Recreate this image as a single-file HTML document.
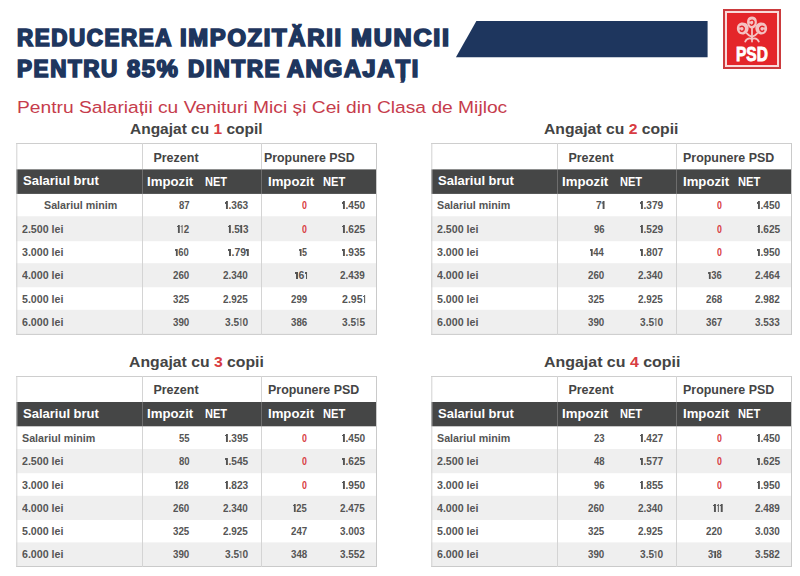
<!DOCTYPE html>
<html><head><meta charset="utf-8"><style>
html,body{margin:0;padding:0;background:#fff;}
body{width:800px;height:576px;position:relative;overflow:hidden;font-family:"Liberation Sans",sans-serif;}
.t{position:absolute;white-space:nowrap;line-height:40px;transform-origin:0 0;}
.o{display:inline-block;width:3.6px;height:7.7px;position:relative;}
.o::before{content:'';position:absolute;left:1.1px;top:0;width:1.6px;height:100%;background:currentColor}
.o::after{content:'';position:absolute;left:0.1px;top:0.8px;width:1.3px;height:1.3px;background:currentColor}
.p{font-style:normal}
.tb{position:absolute;width:359px;height:189px;border:1px solid #c9c9c9;background:#fff;}
.dk{position:absolute;width:359px;height:24px;background:#454545;}
.gr{position:absolute;width:359px;height:23.33px;background:#efefef;}
.vl{position:absolute;width:1px;height:191px;background:#cfcfcf;}
</style></head><body>
<div style="position:absolute;left:0;top:0;width:800px;height:576px;">
<svg style="position:absolute;left:0;top:0" width="800" height="80"><polygon points="476.4,21 707.6,21 707.6,57.3 455.9,57.3" fill="#1e365e"/></svg>
<div style="position:absolute;left:723px;top:9px;width:58px;height:60px;background:#cb3a3d"></div>
<div style="position:absolute;left:725px;top:11px;width:54px;height:56px;background:#f9dada"></div>
<div style="position:absolute;left:727px;top:13px;width:50px;height:52px;background:#e4252a"></div>
<svg style="position:absolute;left:0;top:0" width="800" height="80" viewBox="0 0 800 80"><g transform="translate(752 29.5) scale(1.05) translate(-752 -29.5)">
<g fill="#f4c2c2">
<path d="M752 17 C756.5 17 757 21 756.5 24 C756 27 754 28.5 752 28.5 C750 28.5 748 27 747.5 24 C747 21 747.5 17 752 17z"/>
<path d="M743 22.8 C747 22.8 749 25.5 748.8 28.5 C748.6 32 746 34.2 743 34.2 C739.8 34.2 737.6 31.5 737.6 28.5 C737.6 25.3 739.6 22.8 743 22.8z"/>
<path d="M761 22.8 C757 22.8 755 25.5 755.2 28.5 C755.4 32 758 34.2 761 34.2 C764.2 34.2 766.4 31.5 766.4 28.5 C766.4 25.3 764.4 22.8 761 22.8z"/>
</g>
<g fill="none" stroke="#e4252a" stroke-width="1.3" stroke-linecap="round">
<path d="M750.3 21.2 q2.2 -1.5 3.5 0.6 q0.6 2.4 -1.6 3.6 q-1.6 0.3 -2 -1"/>
<path d="M740.6 27 q2.6 -1.4 4 1 q0.4 2.6 -2 3.4 q-1.5 0 -1.8 -1.2"/>
<path d="M763.4 27 q-2.6 -1.4 -4 1 q-0.4 2.6 2 3.4 q1.5 0 1.8 -1.2"/>
</g>
<g fill="none" stroke="#f4c2c2" stroke-width="1.7" stroke-linecap="round">
<path d="M752 41 L752 28"/>
<path d="M752 36.5 C749.5 35.5 748 34.5 747 33"/>
<path d="M752 36.5 C754.5 35.5 756 34.5 757 33"/>
<path d="M745.5 41 C747 38 749.5 37.5 752 38.5"/>
<path d="M758.5 41 C757 38 754.5 37.5 752 38.5"/>
</g></g></svg>
<svg style="position:absolute;left:0;top:0" width="800" height="576" viewBox="0 0 800 576"><rect x="16" y="143" width="361" height="191.89999999999998" fill="#fff"/><rect x="16" y="216.25" width="361" height="24.95" fill="#efefef"/><rect x="16" y="263.2" width="361" height="24.05" fill="#efefef"/><rect x="16" y="309.8" width="361" height="24.20" fill="#efefef"/><rect x="16" y="169.4" width="361" height="24.50" fill="#454646"/><rect x="16" y="143" width="361" height="1" fill="#cecece"/><rect x="16" y="333.9" width="361" height="1" fill="#cacaca"/><rect x="16.3" y="143" width="1" height="191.89999999999998" fill="#d2d2d2"/><rect x="376" y="143" width="1" height="191.89999999999998" fill="#cacaca"/><rect x="142" y="143" width="1" height="191.89999999999998" fill="#d4d4d4"/><rect x="142" y="169.4" width="1" height="24.50" fill="#6d6d6d"/><rect x="261" y="143" width="1" height="191.89999999999998" fill="#d4d4d4"/><rect x="261" y="169.4" width="1" height="24.50" fill="#6d6d6d"/><rect x="431" y="143" width="361" height="191.89999999999998" fill="#fff"/><rect x="431" y="216.25" width="361" height="24.95" fill="#efefef"/><rect x="431" y="263.2" width="361" height="24.05" fill="#efefef"/><rect x="431" y="309.8" width="361" height="24.20" fill="#efefef"/><rect x="431" y="169.4" width="361" height="24.50" fill="#454646"/><rect x="431" y="143" width="361" height="1" fill="#cecece"/><rect x="431" y="333.9" width="361" height="1" fill="#cacaca"/><rect x="431.3" y="143" width="1" height="191.89999999999998" fill="#d2d2d2"/><rect x="791" y="143" width="1" height="191.89999999999998" fill="#cacaca"/><rect x="557" y="143" width="1" height="191.89999999999998" fill="#d4d4d4"/><rect x="557" y="169.4" width="1" height="24.50" fill="#6d6d6d"/><rect x="676" y="143" width="1" height="191.89999999999998" fill="#d4d4d4"/><rect x="676" y="169.4" width="1" height="24.50" fill="#6d6d6d"/><rect x="16" y="376" width="361" height="191" fill="#fff"/><rect x="16" y="449.0" width="361" height="24.20" fill="#efefef"/><rect x="16" y="495.8" width="361" height="24.20" fill="#efefef"/><rect x="16" y="542.4" width="361" height="23.60" fill="#efefef"/><rect x="16" y="402.0" width="361" height="24.30" fill="#454646"/><rect x="16" y="376" width="361" height="1" fill="#cecece"/><rect x="16" y="566" width="361" height="1" fill="#cacaca"/><rect x="16.3" y="376" width="1" height="191" fill="#d2d2d2"/><rect x="376" y="376" width="1" height="191" fill="#cacaca"/><rect x="142" y="376" width="1" height="191" fill="#d4d4d4"/><rect x="142" y="402.0" width="1" height="24.30" fill="#6d6d6d"/><rect x="261" y="376" width="1" height="191" fill="#d4d4d4"/><rect x="261" y="402.0" width="1" height="24.30" fill="#6d6d6d"/><rect x="431" y="376" width="361" height="191" fill="#fff"/><rect x="431" y="449.0" width="361" height="24.20" fill="#efefef"/><rect x="431" y="495.8" width="361" height="24.20" fill="#efefef"/><rect x="431" y="542.4" width="361" height="23.60" fill="#efefef"/><rect x="431" y="402.0" width="361" height="24.30" fill="#454646"/><rect x="431" y="376" width="361" height="1" fill="#cecece"/><rect x="431" y="566" width="361" height="1" fill="#cacaca"/><rect x="431.3" y="376" width="1" height="191" fill="#d2d2d2"/><rect x="791" y="376" width="1" height="191" fill="#cacaca"/><rect x="557" y="376" width="1" height="191" fill="#d4d4d4"/><rect x="557" y="402.0" width="1" height="24.30" fill="#6d6d6d"/><rect x="676" y="376" width="1" height="191" fill="#d4d4d4"/><rect x="676" y="402.0" width="1" height="24.30" fill="#6d6d6d"/></svg>
<div class="t" style="left:17.00px;top:18.40px;font-size:23.0px;font-weight:700;color:#1e365e;transform:scaleX(0.9742);-webkit-text-stroke:1.7px #1e365e;letter-spacing:1.6px;">REDUCEREA</div><div class="t" style="left:180.00px;top:18.40px;font-size:23.0px;font-weight:700;color:#1e365e;transform:scaleX(1.0372);-webkit-text-stroke:1.7px #1e365e;letter-spacing:1.6px;">IMPOZITĂRII</div><div class="t" style="left:350.70px;top:18.40px;font-size:23.0px;font-weight:700;color:#1e365e;transform:scaleX(1.0922);-webkit-text-stroke:1.7px #1e365e;letter-spacing:1.6px;">MUNCII</div><div class="t" style="left:17.00px;top:49.00px;font-size:23.0px;font-weight:700;color:#1e365e;transform:scaleX(0.9786);-webkit-text-stroke:1.7px #1e365e;letter-spacing:1.6px;">PENTRU</div><div class="t" style="left:126.63px;top:49.00px;font-size:23.0px;font-weight:700;color:#1e365e;transform:scaleX(1.0294);-webkit-text-stroke:1.7px #1e365e;letter-spacing:1.6px;">85%</div><div class="t" style="left:187.50px;top:49.00px;font-size:23.0px;font-weight:700;color:#1e365e;transform:scaleX(0.9777);-webkit-text-stroke:1.7px #1e365e;letter-spacing:1.6px;">DINTRE</div><div class="t" style="left:286.62px;top:49.00px;font-size:23.0px;font-weight:700;color:#1e365e;transform:scaleX(1.0185);-webkit-text-stroke:1.7px #1e365e;letter-spacing:1.6px;">ANGAJAȚI</div><div class="t" style="left:16.90px;top:87.25px;font-size:17.4px;font-weight:400;color:#c63c4c;transform:scaleX(1.1050);">Pentru Salariații cu Venituri Mici și Cei din Clasa de Mijloc</div><div class="t" style="left:130.25px;top:109.30px;font-size:14.6px;font-weight:700;color:#444444;transform:scaleX(1.0612);">Angajat cu <span style="color:#d83c42">1</span> copil</div><div class="t" style="left:153.40px;top:137.50px;font-size:12.5px;font-weight:700;color:#444444;transform:scaleX(1.0000);">Prezent</div><div class="t" style="left:264.00px;top:137.50px;font-size:12.5px;font-weight:700;color:#444444;transform:scaleX(0.9891);">Propunere PSD</div><div class="t" style="left:22.75px;top:161.20px;font-size:13px;font-weight:700;color:#ffffff;transform:scaleX(1.0007);">Salariul brut</div><div class="t" style="left:146.90px;top:161.70px;font-size:12.5px;font-weight:700;color:#ffffff;transform:scaleX(1.0568);">Impozit</div><div class="t" style="left:205.40px;top:161.70px;font-size:12.5px;font-weight:700;color:#ffffff;transform:scaleX(0.8840);">NET</div><div class="t" style="left:268.00px;top:161.70px;font-size:12.5px;font-weight:700;color:#ffffff;transform:scaleX(1.0523);">Impozit</div><div class="t" style="left:322.70px;top:161.70px;font-size:12.5px;font-weight:700;color:#ffffff;transform:scaleX(0.8920);">NET</div><div class="t" style="left:44.00px;top:185.17px;font-size:11px;font-weight:700;color:#555555;transform:scaleX(0.9733);">Salariul minim</div><div class="t" style="left:178.62px;top:185.17px;font-size:10.5px;font-weight:700;color:#555555;transform:scaleX(0.9067);">87</div><div class="t" style="left:225.36px;top:185.17px;font-size:10.5px;font-weight:700;color:#555555;transform:scaleX(0.9642);"><i class="o"></i><i class="p">.</i>363</div><div class="t" style="left:302.46px;top:185.17px;font-size:10.5px;font-weight:700;color:#d83c42;transform:scaleX(0.8400);">0</div><div class="t" style="left:342.36px;top:185.17px;font-size:10.5px;font-weight:700;color:#555555;transform:scaleX(0.9642);"><i class="o"></i><i class="p">.</i>450</div><div class="t" style="left:22.20px;top:208.82px;font-size:11px;font-weight:700;color:#555555;transform:scaleX(0.9674);">2.500 lei</div><div class="t" style="left:177.46px;top:208.82px;font-size:10.5px;font-weight:700;color:#555555;transform:scaleX(0.9262);"><i class="o"></i><i class="o"></i>2</div><div class="t" style="left:227.70px;top:208.82px;font-size:10.5px;font-weight:700;color:#555555;transform:scaleX(0.9455);"><i class="o"></i><i class="p">.</i>5<i class="o"></i>3</div><div class="t" style="left:302.46px;top:208.82px;font-size:10.5px;font-weight:700;color:#d83c42;transform:scaleX(0.8400);">0</div><div class="t" style="left:342.36px;top:208.82px;font-size:10.5px;font-weight:700;color:#555555;transform:scaleX(0.9642);"><i class="o"></i><i class="p">.</i>625</div><div class="t" style="left:22.20px;top:232.30px;font-size:11px;font-weight:700;color:#555555;transform:scaleX(0.9674);">3.000 lei</div><div class="t" style="left:175.12px;top:232.30px;font-size:10.5px;font-weight:700;color:#555555;transform:scaleX(0.8987);"><i class="o"></i>60</div><div class="t" style="left:227.70px;top:232.30px;font-size:10.5px;font-weight:700;color:#555555;transform:scaleX(0.9905);"><i class="o"></i><i class="p">.</i>79<i class="o"></i></div><div class="t" style="left:298.96px;top:232.30px;font-size:10.5px;font-weight:700;color:#555555;transform:scaleX(0.8540);"><i class="o"></i>5</div><div class="t" style="left:342.36px;top:232.30px;font-size:10.5px;font-weight:700;color:#555555;transform:scaleX(0.9642);"><i class="o"></i><i class="p">.</i>935</div><div class="t" style="left:22.20px;top:255.33px;font-size:11px;font-weight:700;color:#555555;transform:scaleX(0.9674);">4.000 lei</div><div class="t" style="left:172.78px;top:255.33px;font-size:10.5px;font-weight:700;color:#555555;transform:scaleX(0.9289);">260</div><div class="t" style="left:223.02px;top:255.33px;font-size:10.5px;font-weight:700;color:#555555;transform:scaleX(0.9437);">2<i class="p">.</i>340</div><div class="t" style="left:295.46px;top:255.33px;font-size:10.5px;font-weight:700;color:#555555;transform:scaleX(1.0033);"><i class="o"></i>6<i class="o"></i></div><div class="t" style="left:340.02px;top:255.33px;font-size:10.5px;font-weight:700;color:#555555;transform:scaleX(0.9437);">2<i class="p">.</i>439</div><div class="t" style="left:22.20px;top:278.62px;font-size:11px;font-weight:700;color:#555555;transform:scaleX(0.9674);">5.000 lei</div><div class="t" style="left:172.78px;top:278.62px;font-size:10.5px;font-weight:700;color:#555555;transform:scaleX(0.9289);">325</div><div class="t" style="left:223.02px;top:278.62px;font-size:10.5px;font-weight:700;color:#555555;transform:scaleX(0.9437);">2<i class="p">.</i>925</div><div class="t" style="left:290.78px;top:278.62px;font-size:10.5px;font-weight:700;color:#555555;transform:scaleX(0.9289);">299</div><div class="t" style="left:342.36px;top:278.62px;font-size:10.5px;font-weight:700;color:#555555;transform:scaleX(1.0061);">2<i class="p">.</i>95<i class="o"></i></div><div class="t" style="left:22.20px;top:302.00px;font-size:11px;font-weight:700;color:#555555;transform:scaleX(0.9674);">6.000 lei</div><div class="t" style="left:172.78px;top:302.00px;font-size:10.5px;font-weight:700;color:#555555;transform:scaleX(0.9289);">390</div><div class="t" style="left:225.36px;top:302.00px;font-size:10.5px;font-weight:700;color:#555555;transform:scaleX(0.9642);">3<i class="p">.</i>5<i class="o"></i>0</div><div class="t" style="left:290.78px;top:302.00px;font-size:10.5px;font-weight:700;color:#555555;transform:scaleX(0.9289);">386</div><div class="t" style="left:342.36px;top:302.00px;font-size:10.5px;font-weight:700;color:#555555;transform:scaleX(0.9642);">3<i class="p">.</i>5<i class="o"></i>5</div><div class="t" style="left:544.00px;top:109.30px;font-size:14.6px;font-weight:700;color:#444444;transform:scaleX(1.0760);">Angajat cu <span style="color:#d83c42">2</span> copii</div><div class="t" style="left:568.40px;top:137.50px;font-size:12.5px;font-weight:700;color:#444444;transform:scaleX(1.0000);">Prezent</div><div class="t" style="left:683.00px;top:137.50px;font-size:12.5px;font-weight:700;color:#444444;transform:scaleX(0.9946);">Propunere PSD</div><div class="t" style="left:437.75px;top:161.20px;font-size:13px;font-weight:700;color:#ffffff;transform:scaleX(1.0007);">Salariul brut</div><div class="t" style="left:561.90px;top:161.70px;font-size:12.5px;font-weight:700;color:#ffffff;transform:scaleX(1.0568);">Impozit</div><div class="t" style="left:620.40px;top:161.70px;font-size:12.5px;font-weight:700;color:#ffffff;transform:scaleX(0.8840);">NET</div><div class="t" style="left:683.00px;top:161.70px;font-size:12.5px;font-weight:700;color:#ffffff;transform:scaleX(1.0523);">Impozit</div><div class="t" style="left:737.70px;top:161.70px;font-size:12.5px;font-weight:700;color:#ffffff;transform:scaleX(0.8920);">NET</div><div class="t" style="left:437.20px;top:185.17px;font-size:11px;font-weight:700;color:#555555;transform:scaleX(0.9733);">Salariul minim</div><div class="t" style="left:595.96px;top:185.17px;font-size:10.5px;font-weight:700;color:#555555;transform:scaleX(0.9489);">7<i class="o"></i></div><div class="t" style="left:640.36px;top:185.17px;font-size:10.5px;font-weight:700;color:#555555;transform:scaleX(0.9642);"><i class="o"></i><i class="p">.</i>379</div><div class="t" style="left:717.46px;top:185.17px;font-size:10.5px;font-weight:700;color:#d83c42;transform:scaleX(0.8400);">0</div><div class="t" style="left:757.36px;top:185.17px;font-size:10.5px;font-weight:700;color:#555555;transform:scaleX(0.9642);"><i class="o"></i><i class="p">.</i>450</div><div class="t" style="left:437.20px;top:208.82px;font-size:11px;font-weight:700;color:#555555;transform:scaleX(0.9674);">2.500 lei</div><div class="t" style="left:593.62px;top:208.82px;font-size:10.5px;font-weight:700;color:#555555;transform:scaleX(0.9067);">96</div><div class="t" style="left:640.36px;top:208.82px;font-size:10.5px;font-weight:700;color:#555555;transform:scaleX(0.9642);"><i class="o"></i><i class="p">.</i>529</div><div class="t" style="left:717.46px;top:208.82px;font-size:10.5px;font-weight:700;color:#d83c42;transform:scaleX(0.8400);">0</div><div class="t" style="left:757.36px;top:208.82px;font-size:10.5px;font-weight:700;color:#555555;transform:scaleX(0.9642);"><i class="o"></i><i class="p">.</i>625</div><div class="t" style="left:437.20px;top:232.30px;font-size:11px;font-weight:700;color:#555555;transform:scaleX(0.9674);">3.000 lei</div><div class="t" style="left:590.12px;top:232.30px;font-size:10.5px;font-weight:700;color:#555555;transform:scaleX(0.8987);"><i class="o"></i>44</div><div class="t" style="left:640.36px;top:232.30px;font-size:10.5px;font-weight:700;color:#555555;transform:scaleX(0.9642);"><i class="o"></i><i class="p">.</i>807</div><div class="t" style="left:717.46px;top:232.30px;font-size:10.5px;font-weight:700;color:#d83c42;transform:scaleX(0.8400);">0</div><div class="t" style="left:757.36px;top:232.30px;font-size:10.5px;font-weight:700;color:#555555;transform:scaleX(0.9642);"><i class="o"></i><i class="p">.</i>950</div><div class="t" style="left:437.20px;top:255.33px;font-size:11px;font-weight:700;color:#555555;transform:scaleX(0.9674);">4.000 lei</div><div class="t" style="left:587.78px;top:255.33px;font-size:10.5px;font-weight:700;color:#555555;transform:scaleX(0.9289);">260</div><div class="t" style="left:638.02px;top:255.33px;font-size:10.5px;font-weight:700;color:#555555;transform:scaleX(0.9437);">2<i class="p">.</i>340</div><div class="t" style="left:708.12px;top:255.33px;font-size:10.5px;font-weight:700;color:#555555;transform:scaleX(0.8987);"><i class="o"></i>36</div><div class="t" style="left:755.02px;top:255.33px;font-size:10.5px;font-weight:700;color:#555555;transform:scaleX(0.9437);">2<i class="p">.</i>464</div><div class="t" style="left:437.20px;top:278.62px;font-size:11px;font-weight:700;color:#555555;transform:scaleX(0.9674);">5.000 lei</div><div class="t" style="left:587.78px;top:278.62px;font-size:10.5px;font-weight:700;color:#555555;transform:scaleX(0.9289);">325</div><div class="t" style="left:638.02px;top:278.62px;font-size:10.5px;font-weight:700;color:#555555;transform:scaleX(0.9437);">2<i class="p">.</i>925</div><div class="t" style="left:705.78px;top:278.62px;font-size:10.5px;font-weight:700;color:#555555;transform:scaleX(0.9289);">268</div><div class="t" style="left:755.02px;top:278.62px;font-size:10.5px;font-weight:700;color:#555555;transform:scaleX(0.9437);">2<i class="p">.</i>982</div><div class="t" style="left:437.20px;top:302.00px;font-size:11px;font-weight:700;color:#555555;transform:scaleX(0.9674);">6.000 lei</div><div class="t" style="left:587.78px;top:302.00px;font-size:10.5px;font-weight:700;color:#555555;transform:scaleX(0.9289);">390</div><div class="t" style="left:640.36px;top:302.00px;font-size:10.5px;font-weight:700;color:#555555;transform:scaleX(0.9642);">3<i class="p">.</i>5<i class="o"></i>0</div><div class="t" style="left:705.78px;top:302.00px;font-size:10.5px;font-weight:700;color:#555555;transform:scaleX(0.9289);">367</div><div class="t" style="left:755.02px;top:302.00px;font-size:10.5px;font-weight:700;color:#555555;transform:scaleX(0.9437);">3<i class="p">.</i>533</div><div class="t" style="left:129.00px;top:341.60px;font-size:14.6px;font-weight:700;color:#444444;transform:scaleX(1.0800);">Angajat cu <span style="color:#d83c42">3</span> copii</div><div class="t" style="left:153.40px;top:369.80px;font-size:12.5px;font-weight:700;color:#444444;transform:scaleX(1.0000);">Prezent</div><div class="t" style="left:268.00px;top:369.80px;font-size:12.5px;font-weight:700;color:#444444;transform:scaleX(0.9946);">Propunere PSD</div><div class="t" style="left:22.75px;top:393.70px;font-size:13px;font-weight:700;color:#ffffff;transform:scaleX(1.0007);">Salariul brut</div><div class="t" style="left:146.90px;top:394.20px;font-size:12.5px;font-weight:700;color:#ffffff;transform:scaleX(1.0568);">Impozit</div><div class="t" style="left:205.40px;top:394.20px;font-size:12.5px;font-weight:700;color:#ffffff;transform:scaleX(0.8840);">NET</div><div class="t" style="left:268.00px;top:394.20px;font-size:12.5px;font-weight:700;color:#ffffff;transform:scaleX(1.0523);">Impozit</div><div class="t" style="left:322.70px;top:394.20px;font-size:12.5px;font-weight:700;color:#ffffff;transform:scaleX(0.8920);">NET</div><div class="t" style="left:22.20px;top:417.75px;font-size:11px;font-weight:700;color:#555555;transform:scaleX(0.9733);">Salariul minim</div><div class="t" style="left:178.62px;top:417.75px;font-size:10.5px;font-weight:700;color:#555555;transform:scaleX(0.9067);">55</div><div class="t" style="left:225.36px;top:417.75px;font-size:10.5px;font-weight:700;color:#555555;transform:scaleX(0.9642);"><i class="o"></i><i class="p">.</i>395</div><div class="t" style="left:302.46px;top:417.75px;font-size:10.5px;font-weight:700;color:#d83c42;transform:scaleX(0.8400);">0</div><div class="t" style="left:342.36px;top:417.75px;font-size:10.5px;font-weight:700;color:#555555;transform:scaleX(0.9642);"><i class="o"></i><i class="p">.</i>450</div><div class="t" style="left:22.20px;top:441.20px;font-size:11px;font-weight:700;color:#555555;transform:scaleX(0.9674);">2.500 lei</div><div class="t" style="left:178.62px;top:441.20px;font-size:10.5px;font-weight:700;color:#555555;transform:scaleX(0.9067);">80</div><div class="t" style="left:225.36px;top:441.20px;font-size:10.5px;font-weight:700;color:#555555;transform:scaleX(0.9642);"><i class="o"></i><i class="p">.</i>545</div><div class="t" style="left:302.46px;top:441.20px;font-size:10.5px;font-weight:700;color:#d83c42;transform:scaleX(0.8400);">0</div><div class="t" style="left:342.36px;top:441.20px;font-size:10.5px;font-weight:700;color:#555555;transform:scaleX(0.9642);"><i class="o"></i><i class="p">.</i>625</div><div class="t" style="left:22.20px;top:464.60px;font-size:11px;font-weight:700;color:#555555;transform:scaleX(0.9674);">3.000 lei</div><div class="t" style="left:175.12px;top:464.60px;font-size:10.5px;font-weight:700;color:#555555;transform:scaleX(0.8987);"><i class="o"></i>28</div><div class="t" style="left:225.36px;top:464.60px;font-size:10.5px;font-weight:700;color:#555555;transform:scaleX(0.9642);"><i class="o"></i><i class="p">.</i>823</div><div class="t" style="left:302.46px;top:464.60px;font-size:10.5px;font-weight:700;color:#d83c42;transform:scaleX(0.8400);">0</div><div class="t" style="left:342.36px;top:464.60px;font-size:10.5px;font-weight:700;color:#555555;transform:scaleX(0.9642);"><i class="o"></i><i class="p">.</i>950</div><div class="t" style="left:22.20px;top:488.00px;font-size:11px;font-weight:700;color:#555555;transform:scaleX(0.9674);">4.000 lei</div><div class="t" style="left:172.78px;top:488.00px;font-size:10.5px;font-weight:700;color:#555555;transform:scaleX(0.9289);">260</div><div class="t" style="left:223.02px;top:488.00px;font-size:10.5px;font-weight:700;color:#555555;transform:scaleX(0.9437);">2<i class="p">.</i>340</div><div class="t" style="left:293.12px;top:488.00px;font-size:10.5px;font-weight:700;color:#555555;transform:scaleX(0.8987);"><i class="o"></i>25</div><div class="t" style="left:340.02px;top:488.00px;font-size:10.5px;font-weight:700;color:#555555;transform:scaleX(0.9437);">2<i class="p">.</i>475</div><div class="t" style="left:22.20px;top:511.30px;font-size:11px;font-weight:700;color:#555555;transform:scaleX(0.9674);">5.000 lei</div><div class="t" style="left:172.78px;top:511.30px;font-size:10.5px;font-weight:700;color:#555555;transform:scaleX(0.9289);">325</div><div class="t" style="left:223.02px;top:511.30px;font-size:10.5px;font-weight:700;color:#555555;transform:scaleX(0.9437);">2<i class="p">.</i>925</div><div class="t" style="left:290.78px;top:511.30px;font-size:10.5px;font-weight:700;color:#555555;transform:scaleX(0.9289);">247</div><div class="t" style="left:340.02px;top:511.30px;font-size:10.5px;font-weight:700;color:#555555;transform:scaleX(0.9437);">3<i class="p">.</i>003</div><div class="t" style="left:22.20px;top:534.30px;font-size:11px;font-weight:700;color:#555555;transform:scaleX(0.9674);">6.000 lei</div><div class="t" style="left:172.78px;top:534.30px;font-size:10.5px;font-weight:700;color:#555555;transform:scaleX(0.9289);">390</div><div class="t" style="left:225.36px;top:534.30px;font-size:10.5px;font-weight:700;color:#555555;transform:scaleX(0.9642);">3<i class="p">.</i>5<i class="o"></i>0</div><div class="t" style="left:290.78px;top:534.30px;font-size:10.5px;font-weight:700;color:#555555;transform:scaleX(0.9289);">348</div><div class="t" style="left:340.02px;top:534.30px;font-size:10.5px;font-weight:700;color:#555555;transform:scaleX(0.9437);">3<i class="p">.</i>552</div><div class="t" style="left:543.50px;top:341.60px;font-size:14.6px;font-weight:700;color:#444444;transform:scaleX(1.0920);">Angajat cu <span style="color:#d83c42">4</span> copii</div><div class="t" style="left:568.40px;top:369.80px;font-size:12.5px;font-weight:700;color:#444444;transform:scaleX(1.0000);">Prezent</div><div class="t" style="left:683.00px;top:369.80px;font-size:12.5px;font-weight:700;color:#444444;transform:scaleX(0.9946);">Propunere PSD</div><div class="t" style="left:437.75px;top:393.70px;font-size:13px;font-weight:700;color:#ffffff;transform:scaleX(1.0007);">Salariul brut</div><div class="t" style="left:561.90px;top:394.20px;font-size:12.5px;font-weight:700;color:#ffffff;transform:scaleX(1.0568);">Impozit</div><div class="t" style="left:620.40px;top:394.20px;font-size:12.5px;font-weight:700;color:#ffffff;transform:scaleX(0.8840);">NET</div><div class="t" style="left:683.00px;top:394.20px;font-size:12.5px;font-weight:700;color:#ffffff;transform:scaleX(1.0523);">Impozit</div><div class="t" style="left:737.70px;top:394.20px;font-size:12.5px;font-weight:700;color:#ffffff;transform:scaleX(0.8920);">NET</div><div class="t" style="left:437.20px;top:417.75px;font-size:11px;font-weight:700;color:#555555;transform:scaleX(0.9733);">Salariul minim</div><div class="t" style="left:593.62px;top:417.75px;font-size:10.5px;font-weight:700;color:#555555;transform:scaleX(0.9067);">23</div><div class="t" style="left:640.36px;top:417.75px;font-size:10.5px;font-weight:700;color:#555555;transform:scaleX(0.9642);"><i class="o"></i><i class="p">.</i>427</div><div class="t" style="left:717.46px;top:417.75px;font-size:10.5px;font-weight:700;color:#d83c42;transform:scaleX(0.8400);">0</div><div class="t" style="left:757.36px;top:417.75px;font-size:10.5px;font-weight:700;color:#555555;transform:scaleX(0.9642);"><i class="o"></i><i class="p">.</i>450</div><div class="t" style="left:437.20px;top:441.20px;font-size:11px;font-weight:700;color:#555555;transform:scaleX(0.9674);">2.500 lei</div><div class="t" style="left:593.62px;top:441.20px;font-size:10.5px;font-weight:700;color:#555555;transform:scaleX(0.9067);">48</div><div class="t" style="left:640.36px;top:441.20px;font-size:10.5px;font-weight:700;color:#555555;transform:scaleX(0.9642);"><i class="o"></i><i class="p">.</i>577</div><div class="t" style="left:717.46px;top:441.20px;font-size:10.5px;font-weight:700;color:#d83c42;transform:scaleX(0.8400);">0</div><div class="t" style="left:757.36px;top:441.20px;font-size:10.5px;font-weight:700;color:#555555;transform:scaleX(0.9642);"><i class="o"></i><i class="p">.</i>625</div><div class="t" style="left:437.20px;top:464.60px;font-size:11px;font-weight:700;color:#555555;transform:scaleX(0.9674);">3.000 lei</div><div class="t" style="left:593.62px;top:464.60px;font-size:10.5px;font-weight:700;color:#555555;transform:scaleX(0.9067);">96</div><div class="t" style="left:640.36px;top:464.60px;font-size:10.5px;font-weight:700;color:#555555;transform:scaleX(0.9642);"><i class="o"></i><i class="p">.</i>855</div><div class="t" style="left:717.46px;top:464.60px;font-size:10.5px;font-weight:700;color:#d83c42;transform:scaleX(0.8400);">0</div><div class="t" style="left:757.36px;top:464.60px;font-size:10.5px;font-weight:700;color:#555555;transform:scaleX(0.9642);"><i class="o"></i><i class="p">.</i>950</div><div class="t" style="left:437.20px;top:488.00px;font-size:11px;font-weight:700;color:#555555;transform:scaleX(0.9674);">4.000 lei</div><div class="t" style="left:587.78px;top:488.00px;font-size:10.5px;font-weight:700;color:#555555;transform:scaleX(0.9289);">260</div><div class="t" style="left:638.02px;top:488.00px;font-size:10.5px;font-weight:700;color:#555555;transform:scaleX(0.9437);">2<i class="p">.</i>340</div><div class="t" style="left:712.80px;top:488.00px;font-size:10.5px;font-weight:700;color:#555555;transform:scaleX(0.9700);"><i class="o"></i><i class="o"></i><i class="o"></i></div><div class="t" style="left:755.02px;top:488.00px;font-size:10.5px;font-weight:700;color:#555555;transform:scaleX(0.9437);">2<i class="p">.</i>489</div><div class="t" style="left:437.20px;top:511.30px;font-size:11px;font-weight:700;color:#555555;transform:scaleX(0.9674);">5.000 lei</div><div class="t" style="left:587.78px;top:511.30px;font-size:10.5px;font-weight:700;color:#555555;transform:scaleX(0.9289);">325</div><div class="t" style="left:638.02px;top:511.30px;font-size:10.5px;font-weight:700;color:#555555;transform:scaleX(0.9437);">2<i class="p">.</i>925</div><div class="t" style="left:705.78px;top:511.30px;font-size:10.5px;font-weight:700;color:#555555;transform:scaleX(0.9289);">220</div><div class="t" style="left:755.02px;top:511.30px;font-size:10.5px;font-weight:700;color:#555555;transform:scaleX(0.9437);">3<i class="p">.</i>030</div><div class="t" style="left:437.20px;top:534.30px;font-size:11px;font-weight:700;color:#555555;transform:scaleX(0.9674);">6.000 lei</div><div class="t" style="left:587.78px;top:534.30px;font-size:10.5px;font-weight:700;color:#555555;transform:scaleX(0.9289);">390</div><div class="t" style="left:640.36px;top:534.30px;font-size:10.5px;font-weight:700;color:#555555;transform:scaleX(0.9642);">3<i class="p">.</i>5<i class="o"></i>0</div><div class="t" style="left:708.12px;top:534.30px;font-size:10.5px;font-weight:700;color:#555555;transform:scaleX(0.8987);">3<i class="o"></i>8</div><div class="t" style="left:755.02px;top:534.30px;font-size:10.5px;font-weight:700;color:#555555;transform:scaleX(0.9437);">3<i class="p">.</i>582</div><div class="t" style="left:735.50px;top:33.50px;font-size:21px;font-weight:700;color:#ffffff;transform:scaleX(0.7372);-webkit-text-stroke:0.9px #ffffff;">PSD</div>
</div>
</body></html>
